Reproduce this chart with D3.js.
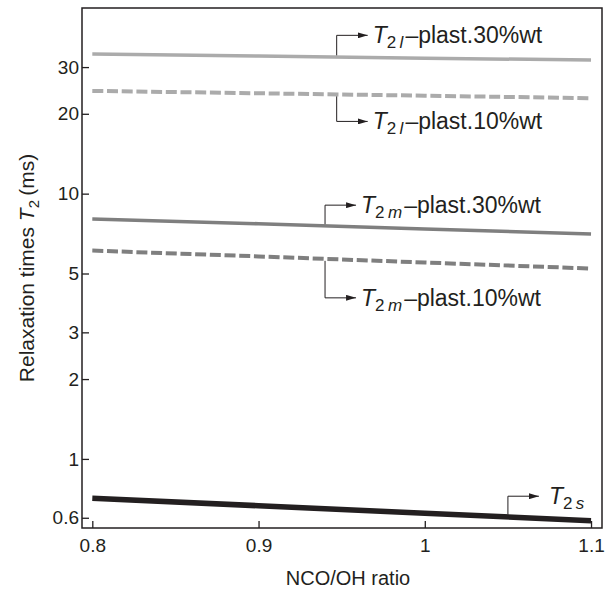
<!DOCTYPE html>
<html>
<head>
<meta charset="utf-8">
<script src="https://cdn.jsdelivr.net/npm/d3@7"></script>
<style>
  html, body { margin: 0; padding: 0; background: #fff; }
  svg { display: block; font-family: "Liberation Sans", Arial, Helvetica, sans-serif; }
</style>
</head>
<body>
<svg id="chart" width="615" height="596"></svg>
<script>
// ---- data ----
const ratios = [0.8, 0.9, 1.0, 1.1];
const t2l_30 = [33.6, 33.0, 32.4, 31.9];
const t2l_10 = [24.4, 23.9, 23.4, 22.9];
const t2m_30 = [8.03, 7.70, 7.35, 7.05];
const t2m_10 = [6.10, 5.80, 5.50, 5.22];
const t2s    = [0.711, 0.666, 0.624, 0.585];
const xTicks = [0.8, 0.9, 1.0, 1.1];
const yTicks = [0.6, 1, 2, 3, 5, 10, 20, 30];

const series = [
  { values: t2l_30, color: "#ababab", width: 3.5, dash: null,
    sub: "l", label: "\u2013plast.30%wt", at: 0.947, dir: -1, len: 20 },
  { values: t2l_10, color: "#ababab", width: 4, dash: "11,3.7",
    sub: "l", label: "\u2013plast.10%wt", at: 0.947, dir: 1, len: 25 },
  { values: t2m_30, color: "#7f7f7f", width: 3.5, dash: null,
    sub: "m", label: "\u2013plast.30%wt", at: 0.940, dir: -1, len: 19 },
  { values: t2m_10, color: "#7f7f7f", width: 4, dash: "11,3.7",
    sub: "m", label: "\u2013plast.10%wt", at: 0.940, dir: 1, len: 37 },
  { values: t2s, color: "#231f20", width: 5.5, dash: null,
    sub: "s", label: "", at: 1.050, dir: -1, len: 18 }
];

// ---- layout ----
const svg = d3.select("#chart");
const M = { left: 82, top: 8, right: 602, bottom: 528 };
const x = d3.scaleLinear().domain([0.7938, 1.1066]).range([M.left, M.right]);
const y = d3.scaleLog().domain([0.549, 50.1]).range([M.bottom, M.top]);

const line = d3.line().x((d, i) => x(ratios[i])).y(d => y(d));

// series lines
series.forEach(s => {
  svg.append("path")
    .attr("d", line(s.values))
    .attr("fill", "none")
    .attr("stroke", s.color)
    .attr("stroke-width", s.width)
    .attr("stroke-dasharray", s.dash);
});

// frame
svg.append("rect")
  .attr("x", M.left).attr("y", M.top)
  .attr("width", M.right - M.left).attr("height", M.bottom - M.top)
  .attr("fill", "none").attr("stroke", "#231f20").attr("stroke-width", 1.5);

// axes
const yAxis = d3.axisLeft(y).tickValues(yTicks).tickSize(-7).tickPadding(3)
  .tickFormat(d3.format(""));
const gy = svg.append("g").attr("transform", `translate(${M.left},0)`).call(yAxis);
const xAxis = d3.axisBottom(x).tickValues(xTicks).tickSize(-7).tickPadding(11)
  .tickFormat(d3.format(""));
const gx = svg.append("g").attr("transform", `translate(0,${M.bottom})`).call(xAxis);
[gx, gy].forEach(g => {
  g.select(".domain").remove();
  g.selectAll("line").attr("stroke", "#231f20").attr("stroke-width", 1.3);
  g.selectAll("text").attr("fill", "#231f20").style("font-size", "19px")
    .style("font-family", '"Liberation Sans", Arial, sans-serif');
});

// axis titles
svg.append("text")
  .attr("x", (M.left + M.right) / 2 + 6).attr("y", 585)
  .attr("text-anchor", "middle").attr("fill", "#231f20")
  .style("font-size", "20px").text("NCO/OH ratio");

const yt = svg.append("text")
  .attr("transform", `translate(34,${(M.top + M.bottom) / 2}) rotate(-90)`)
  .attr("text-anchor", "middle").attr("fill", "#231f20")
  .style("font-size", "21px");
yt.append("tspan").text("Relaxation times ");
yt.append("tspan").attr("font-style", "italic").text("T");
yt.append("tspan").attr("dy", 5).style("font-size", "15px").text("2");
yt.append("tspan").attr("dy", -5).text("\u2009(ms)");

// annotations
const defs = svg.append("defs");
defs.append("marker").attr("id", "arr")
  .attr("viewBox", "0 0 10 6").attr("refX", 10).attr("refY", 3)
  .attr("markerWidth", 10).attr("markerHeight", 6).attr("markerUnits", "userSpaceOnUse")
  .attr("orient", "auto")
  .append("path").attr("d", "M0,0 L10,3 L0,6 Z").attr("fill", "#231f20");

function valueAt(vals, r) {
  const iy = d3.scaleLinear().domain(ratios).range(vals.map(v => Math.log(v)));
  return Math.exp(iy(r));
}

series.forEach(s => {
  const ax = x(s.at);
  const ay = y(valueAt(s.values, s.at)) + s.dir * (s.width / 2);
  const ey = ay + s.dir * s.len;
  const tipX = ax + 31;
  svg.append("path")
    .attr("d", `M${ax},${ay} L${ax},${ey} L${tipX},${ey}`)
    .attr("fill", "none").attr("stroke", "#231f20").attr("stroke-width", 1)
    .attr("marker-end", "url(#arr)");
  const t = svg.append("text")
    .attr("x", tipX + (s.sub === "s" ? 10 : 5)).attr("y", ey + 8)
    .attr("fill", "#231f20").style("font-size", "23px");
  t.append("tspan").attr("font-style", "italic").text("T");
  t.append("tspan").attr("dy", 5).style("font-size", "17px").text("2\u2009");
  t.append("tspan").attr("font-style", "italic").style("font-size", "17px").text(s.sub);
  if (s.label) t.append("tspan").attr("dy", -5).attr("dx", 2).text(s.label);
});
</script>
</body>
</html>
